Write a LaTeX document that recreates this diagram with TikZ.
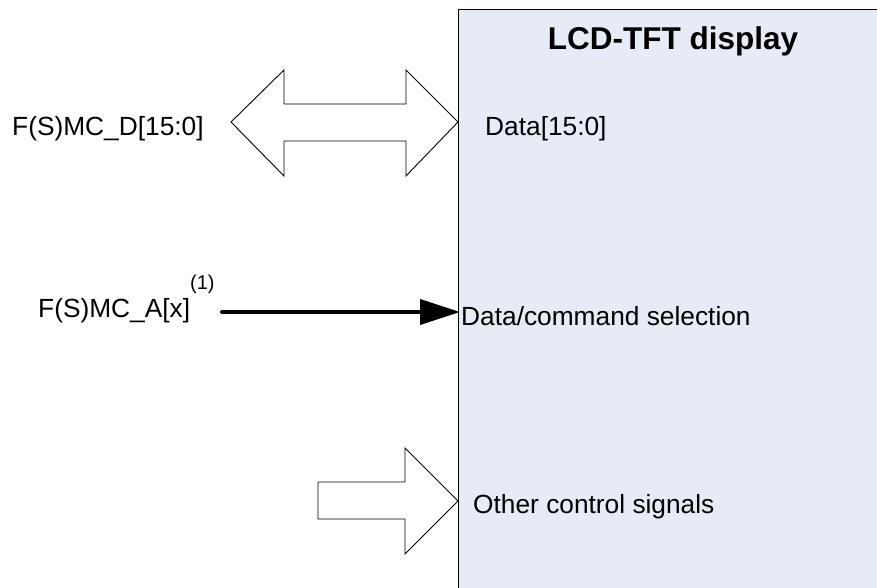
\documentclass[tikz,border=0pt]{standalone}
\usepackage{fontspec}
\setmainfont{Liberation Sans}
\usetikzlibrary{arrows.meta,positioning}
\definecolor{lcdfill}{RGB}{230,235,246}
\tikzset{
  sig/.style={anchor=base west, inner sep=0pt, font=\fontsize{26.3}{30}\selectfont},
  blockarrow/.style={draw=black, fill=white, line width=0.9pt, line join=miter},
}
\begin{document}
\begin{tikzpicture}[x=1pt,y=-1pt]
\useasboundingbox (0,0) rectangle (877,587);
% display
\node (lcd) [draw, fill=lcdfill, line width=1.2pt, anchor=north west,
  minimum width=480pt, minimum height=620pt, inner sep=0pt] at (458,9) {};
\node (title) [anchor=base, inner sep=0pt, font=\fontsize{31.5}{36}\selectfont\bfseries]
  at (673,49) {LCD-TFT display};
% signal names
\node (fsmcd) [sig] at (12,135) {F(S)MC\_D[15:0]};
\node (data) [sig] at (485,135) {Data[15:0]};
\node (fsmca) [sig] at (38,317) {F(S)MC\_A[x]\raisebox{28pt}{\fontsize{20}{20}\selectfont(1)}};
\node (dcsel) [sig] at (461,325) {Data/command selection};
\node (other) [sig] at (473,513) {Other control signals};
% data bus
\draw[blockarrow] (231,122) -- (284,70) -- (284,104) -- (406,104) -- (406,70)
  -- (458,122) -- (406,176) -- (406,141) -- (284,141) -- (284,176) -- cycle;
% address line
\coordinate (astart) at (222,312);
\coordinate (atip) at (460,312);
\draw[line width=4pt, line cap=round, -{Triangle[length=40pt,width=25pt]}] (astart) -- (atip);
% control signals
\draw[blockarrow] (318,482) -- (405,482) -- (405,448) -- (458,501) -- (405,554)
  -- (405,519) -- (318,519) -- cycle;
\end{tikzpicture}
\end{document}
